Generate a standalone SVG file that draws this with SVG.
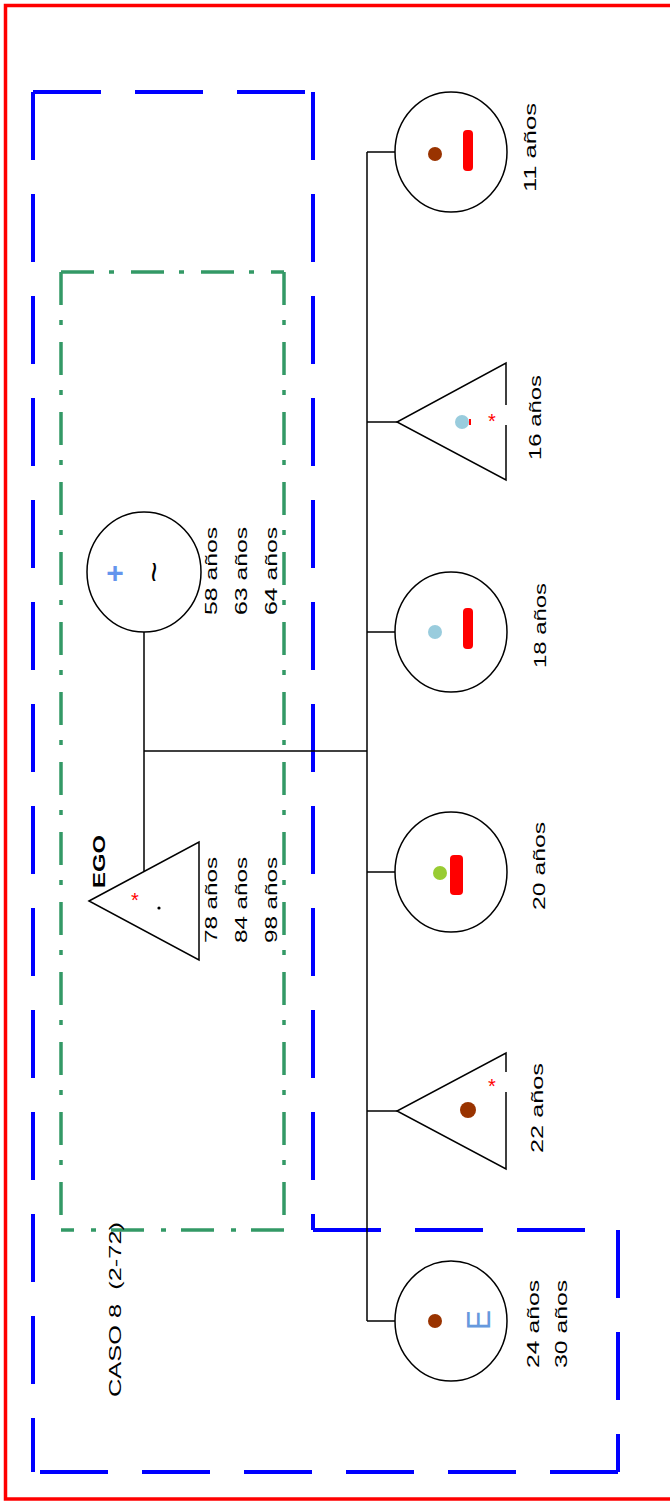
<svg xmlns="http://www.w3.org/2000/svg" width="670" height="1501" viewBox="0 0 670 1501">
<style>
.txt{font-family:"Liberation Sans",Arial,sans-serif;font-size:16px;fill:#000}
.node{fill:#fff;stroke:#000;stroke-width:1.5}
.link{fill:none;stroke:#000;stroke-width:1.5}
.brown{fill:#993300}
.lblue{fill:#99ccdd}
.green{fill:#99cc33}
.bar{fill:#ff0000}
.star{font-family:"Liberation Sans",Arial,sans-serif;font-size:20px;fill:#ff0000;text-anchor:middle}
.blue{fill:none;stroke:#0000ff;stroke-width:4;stroke-dasharray:68 34}
.grn{fill:none;stroke:#339966;stroke-width:3.5;stroke-dasharray:33 15 5 17}
</style>
<rect x="0" y="0" width="670" height="1501" fill="#fff"/>
<rect x="5.5" y="5.5" width="700" height="1493.5" fill="none" stroke="#ff0000" stroke-width="3.5"/>
<g id="frame-blue">
<path class="blue" d="M33,92 L313,92"/>
<path class="blue" d="M313,92 L313,1230"/>
<path class="blue" d="M313,1230 L618,1230"/>
<path class="blue" d="M618,1230 L618,1472"/>
<path class="blue" d="M618,1472 L33,1472"/>
<path class="blue" d="M33,92 L33,1472"/>
</g>
<g id="frame-green">
<path class="grn" d="M61,272 L284,272"/>
<path class="grn" d="M284,272 L284,1230"/>
<path class="grn" d="M284,1230 L61,1230"/>
<path class="grn" d="M61,272 L61,1230"/>
</g>
<g id="connectors">
<line class="link" x1="144" y1="632" x2="144" y2="871"/>
<line class="link" x1="144" y1="751" x2="367" y2="751"/>
<line class="link" x1="367" y1="152" x2="367" y2="1321"/>
<line class="link" x1="367" y1="152" x2="395" y2="152"/>
<line class="link" x1="367" y1="422" x2="397" y2="422"/>
<line class="link" x1="367" y1="632" x2="395" y2="632"/>
<line class="link" x1="367" y1="872" x2="395" y2="872"/>
<line class="link" x1="367" y1="1111" x2="397" y2="1111"/>
<line class="link" x1="367" y1="1321" x2="395" y2="1321"/>
</g>
<g id="mother">
<ellipse class="node" cx="144" cy="572" rx="57" ry="60"/>
<text x="115" y="583" font-family="Liberation Sans,Arial,sans-serif" font-size="30" font-weight="bold" fill="#6495ed" text-anchor="middle">+</text>
<text transform="translate(165,572) rotate(-90)" font-family="Liberation Sans,Arial,sans-serif" font-size="32" text-anchor="middle" textLength="21" lengthAdjust="spacingAndGlyphs">~</text>
<text class="txt" transform="translate(217,615) rotate(-90)" textLength="88" lengthAdjust="spacingAndGlyphs">58 años</text>
<text class="txt" transform="translate(247,615) rotate(-90)" textLength="88" lengthAdjust="spacingAndGlyphs">63 años</text>
<text class="txt" transform="translate(277,615) rotate(-90)" textLength="88" lengthAdjust="spacingAndGlyphs">64 años</text>
</g>
<g id="ego">
<path class="node" d="M89,901 L199,842 L199,960 Z"/>
<text class="star" x="135" y="907">*</text>
<circle cx="159" cy="908" r="1.6" fill="#000"/>
<text class="txt" transform="translate(105,888) rotate(-90)" font-weight="bold" font-size="17" textLength="53" lengthAdjust="spacingAndGlyphs">EGO</text>
<text class="txt" transform="translate(217,943) rotate(-90)" textLength="86" lengthAdjust="spacingAndGlyphs">78 años</text>
<text class="txt" transform="translate(247,943) rotate(-90)" textLength="86" lengthAdjust="spacingAndGlyphs">84 años</text>
<text class="txt" transform="translate(277,943) rotate(-90)" textLength="86" lengthAdjust="spacingAndGlyphs">98 años</text>
</g>
<g id="child-11">
<ellipse class="node" cx="451" cy="152" rx="56" ry="60"/>
<circle class="brown" cx="435" cy="154" r="7"/>
<rect class="bar" x="463" y="130" width="10" height="41" rx="4"/>
<text class="txt" transform="translate(536,192) rotate(-90)" textLength="89" lengthAdjust="spacingAndGlyphs">11 años</text>
</g>
<g id="child-16">
<path class="node" d="M506,425 L506,480 L397,422 L506,363 L506,405"/>
<circle class="lblue" cx="462" cy="422" r="7"/>
<rect class="bar" x="469" y="419" width="2" height="6"/>
<text class="star" x="492" y="428">*</text>
<text class="txt" transform="translate(541,460) rotate(-90)" textLength="85" lengthAdjust="spacingAndGlyphs">16 años</text>
</g>
<g id="child-18">
<ellipse class="node" cx="451" cy="632" rx="56" ry="60"/>
<circle class="lblue" cx="435" cy="632" r="7"/>
<rect class="bar" x="463" y="608" width="10" height="41" rx="4"/>
<text class="txt" transform="translate(546,668) rotate(-90)" textLength="85" lengthAdjust="spacingAndGlyphs">18 años</text>
</g>
<g id="child-20">
<ellipse class="node" cx="451" cy="872" rx="56" ry="60"/>
<circle class="green" cx="440" cy="873" r="7"/>
<rect class="bar" x="450" y="855" width="13" height="40" rx="4"/>
<text class="txt" transform="translate(545,910) rotate(-90)" textLength="88" lengthAdjust="spacingAndGlyphs">20 años</text>
</g>
<g id="child-22">
<path class="node" d="M506,1092 L506,1169 L397,1111 L506,1053 L506,1072"/>
<circle class="brown" cx="468" cy="1110" r="8"/>
<text class="star" x="492" y="1093">*</text>
<text class="txt" transform="translate(543,1153) rotate(-90)" textLength="90" lengthAdjust="spacingAndGlyphs">22 años</text>
</g>
<g id="child-24">
<ellipse class="node" cx="451" cy="1321" rx="56" ry="60"/>
<circle class="brown" cx="435" cy="1321" r="7"/>
<text transform="translate(490,1330) rotate(-90)" font-family="Liberation Sans,Arial,sans-serif" font-size="34" fill="#6699dd" textLength="20" lengthAdjust="spacingAndGlyphs">E</text>
<text class="txt" transform="translate(539,1368) rotate(-90)" textLength="88" lengthAdjust="spacingAndGlyphs">24 años</text>
<text class="txt" transform="translate(567,1368) rotate(-90)" textLength="88" lengthAdjust="spacingAndGlyphs">30 años</text>
</g>
<g id="title">
<text class="txt" xml:space="preserve" transform="translate(121,1397) rotate(-90)" font-size="17" textLength="175" lengthAdjust="spacingAndGlyphs">CASO 8  (2-72)</text>
</g>
</svg>
